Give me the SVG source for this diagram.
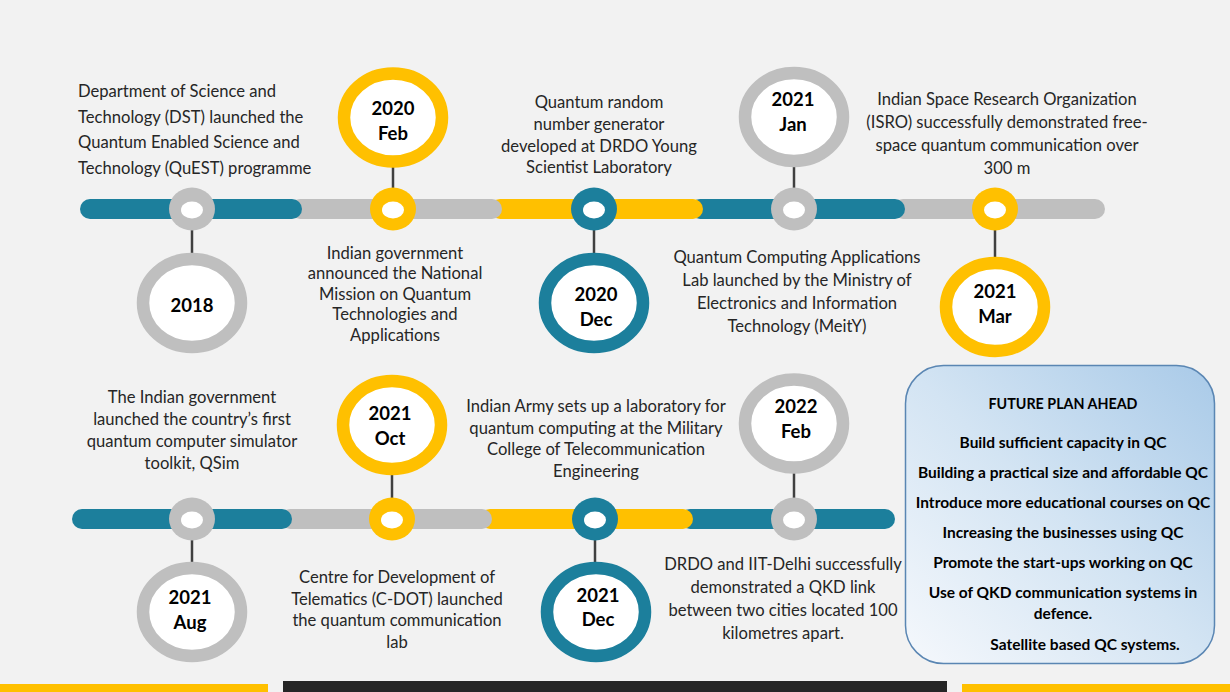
<svg xmlns="http://www.w3.org/2000/svg" width="1230" height="692" viewBox="0 0 1230 692">
<defs>
<linearGradient id="planGrad" x1="0" y1="1" x2="1" y2="0">
<stop offset="0" stop-color="#f5f8fc"/>
<stop offset="0.5" stop-color="#d3e4f3"/>
<stop offset="1" stop-color="#a9cae8"/>
</linearGradient>
</defs>
<style>
.bg{fill:#f2f2f2}
.bar{fill:none;stroke-width:20;stroke-linecap:round}
.teal{stroke:#1c7f9c}
.gray{stroke:#bfbfbf}
.yel{stroke:#ffc000}
.ft{fill:#1c7f9c}.fg{fill:#bfbfbf}.fy{fill:#ffc000}
.big{fill:#ffffff;stroke-width:12.5}
.hole{fill:#ffffff}
.conn{stroke:#404040;stroke-width:2.5;fill:none}
.desc{font-family:Lato,"Liberation Sans",sans-serif;font-size:16.6px;fill:#262626}
.c{text-anchor:middle}
.yr{font-family:Lato,"Liberation Sans",sans-serif;font-size:18.5px;font-weight:bold;fill:#000;text-anchor:middle}
.plan{font-family:Lato,"Liberation Sans",sans-serif;font-size:15.5px;font-weight:bold;fill:#000;text-anchor:middle}
.ptitle{font-size:14.3px}
</style>
<rect class="bg" x="0" y="0" width="1230" height="692"/>

<g id="timeline-top">
<line class="bar gray" x1="903" y1="209" x2="1095" y2="209"/>
<line class="bar teal" x1="700" y1="209" x2="895" y2="209"/>
<line class="bar yel" x1="500" y1="209" x2="693" y2="209"/>
<line class="bar gray" x1="300" y1="209" x2="492" y2="209"/>
<line class="bar teal" x1="90" y1="209" x2="292" y2="209"/>
</g>
<g id="timeline-bottom">
<line class="bar teal" x1="690" y1="519" x2="885" y2="519"/>
<line class="bar yel" x1="490" y1="519" x2="683" y2="519"/>
<line class="bar gray" x1="290" y1="519" x2="482" y2="519"/>
<line class="bar teal" x1="82" y1="519" x2="282" y2="519"/>
</g>

<g id="connectors">
<line class="conn" x1="192" y1="229" x2="192" y2="256"/>
<line class="conn" x1="393" y1="167" x2="393" y2="190"/>
<line class="conn" x1="594" y1="229" x2="594" y2="254"/>
<line class="conn" x1="794" y1="166" x2="794" y2="190"/>
<line class="conn" x1="995" y1="229" x2="995" y2="258"/>
<line class="conn" x1="192" y1="539" x2="192" y2="563"/>
<line class="conn" x1="392" y1="474" x2="392" y2="500"/>
<line class="conn" x1="595" y1="539" x2="595" y2="563"/>
<line class="conn" x1="794" y1="473" x2="794" y2="500"/>
</g>

<g id="event-2018">
<ellipse class="fg" cx="192" cy="209" rx="23" ry="21.5"/>
<ellipse class="hole" cx="192" cy="210" rx="11" ry="8.5"/>
<ellipse class="big gray" cx="192" cy="303" rx="49" ry="44"/>
<text class="yr" x="192" y="312">2018</text>
<text class="desc" x="78" y="97">Department of Science and</text>
<text class="desc" x="78" y="122.5">Technology (DST) launched the</text>
<text class="desc" x="78" y="148">Quantum Enabled Science and</text>
<text class="desc" x="78" y="173.5">Technology (QuEST) programme</text>
</g>

<g id="event-2020-feb">
<ellipse class="fy" cx="393" cy="209" rx="23" ry="21.5"/>
<ellipse class="hole" cx="393" cy="210" rx="11" ry="8.5"/>
<ellipse class="big yel" cx="393" cy="117.5" rx="49" ry="44"/>
<text class="yr" x="393" y="114.5">2020</text>
<text class="yr" x="393" y="140">Feb</text>
<text class="desc c" x="395" y="258.5">Indian government</text>
<text class="desc c" x="395" y="279">announced the National</text>
<text class="desc c" x="395" y="299.5">Mission on Quantum</text>
<text class="desc c" x="395" y="320">Technologies and</text>
<text class="desc c" x="395" y="340.5">Applications</text>
</g>

<g id="event-2020-dec">
<ellipse class="ft" cx="594" cy="209" rx="23" ry="21.5"/>
<ellipse class="hole" cx="594" cy="210" rx="11" ry="8.5"/>
<ellipse class="big teal" cx="594" cy="303" rx="49" ry="44"/>
<text class="yr" x="596" y="300.5">2020</text>
<text class="yr" x="596" y="325.5">Dec</text>
<text class="desc c" x="599" y="108">Quantum random</text>
<text class="desc c" x="599" y="130">number generator</text>
<text class="desc c" x="599" y="151.5">developed at DRDO Young</text>
<text class="desc c" x="599" y="173">Scientist Laboratory</text>
</g>

<g id="event-2021-jan">
<ellipse class="fg" cx="794" cy="209" rx="23" ry="21.5"/>
<ellipse class="hole" cx="794" cy="210" rx="11" ry="8.5"/>
<ellipse class="big gray" cx="794" cy="117" rx="49" ry="44"/>
<text class="yr" x="793" y="106">2021</text>
<text class="yr" x="793" y="130.5">Jan</text>
<text class="desc c" x="797" y="263">Quantum Computing Applications</text>
<text class="desc c" x="797" y="286">Lab launched by the Ministry of</text>
<text class="desc c" x="797" y="309">Electronics and Information</text>
<text class="desc c" x="797" y="332">Technology (MeitY)</text>
</g>

<g id="event-2021-mar">
<ellipse class="fy" cx="995" cy="209" rx="23" ry="21.5"/>
<ellipse class="hole" cx="995" cy="210" rx="11" ry="8.5"/>
<ellipse class="big yel" cx="995" cy="307" rx="49" ry="44"/>
<text class="yr" x="995" y="298">2021</text>
<text class="yr" x="995" y="323">Mar</text>
<text class="desc c" x="1007" y="105">Indian Space Research Organization</text>
<text class="desc c" x="1007" y="128">(ISRO) successfully demonstrated free-</text>
<text class="desc c" x="1007" y="151">space quantum communication over</text>
<text class="desc c" x="1007" y="174">300 m</text>
</g>

<g id="event-2021-aug">
<ellipse class="fg" cx="192" cy="519" rx="23" ry="21.5"/>
<ellipse class="hole" cx="192" cy="520" rx="11" ry="8.5"/>
<ellipse class="big gray" cx="192" cy="612" rx="49" ry="44"/>
<text class="yr" x="190" y="604">2021</text>
<text class="yr" x="190" y="628.5">Aug</text>
<text class="desc c" x="192" y="403">The Indian government</text>
<text class="desc c" x="192" y="425">launched the country’s first</text>
<text class="desc c" x="192" y="447">quantum computer simulator</text>
<text class="desc c" x="192" y="468.5">toolkit, QSim</text>
</g>

<g id="event-2021-oct">
<ellipse class="fy" cx="392" cy="519" rx="23" ry="21.5"/>
<ellipse class="hole" cx="392" cy="520" rx="11" ry="8.5"/>
<ellipse class="big yel" cx="392" cy="425" rx="49" ry="44"/>
<text class="yr" x="390" y="419.5">2021</text>
<text class="yr" x="390" y="444.5">Oct</text>
<text class="desc c" x="397" y="583">Centre for Development of</text>
<text class="desc c" x="397" y="604.5">Telematics (C-DOT) launched</text>
<text class="desc c" x="397" y="626">the quantum communication</text>
<text class="desc c" x="397" y="647.5">lab</text>
</g>

<g id="event-2021-dec">
<ellipse class="ft" cx="595" cy="519" rx="23" ry="21.5"/>
<ellipse class="hole" cx="595" cy="520" rx="11" ry="8.5"/>
<ellipse class="big teal" cx="596" cy="612" rx="49" ry="44"/>
<text class="yr" x="598" y="602">2021</text>
<text class="yr" x="598" y="626">Dec</text>
<text class="desc c" x="596" y="412">Indian Army sets up a laboratory for</text>
<text class="desc c" x="596" y="433.5">quantum computing at the Military</text>
<text class="desc c" x="596" y="455">College of Telecommunication</text>
<text class="desc c" x="596" y="476.5">Engineering</text>
</g>

<g id="event-2022-feb">
<ellipse class="fg" cx="794" cy="519" rx="23" ry="21.5"/>
<ellipse class="hole" cx="794" cy="520" rx="11" ry="8.5"/>
<ellipse class="big gray" cx="794" cy="423.5" rx="49" ry="44"/>
<text class="yr" x="796" y="413">2022</text>
<text class="yr" x="796" y="437.5">Feb</text>
<text class="desc c" x="783" y="569.5">DRDO and IIT-Delhi successfully</text>
<text class="desc c" x="783" y="592.5">demonstrated a QKD link</text>
<text class="desc c" x="783" y="615.5">between two cities located 100</text>
<text class="desc c" x="783" y="638.5">kilometres apart.</text>
</g>

<g id="future-plan">
<rect x="905.5" y="365.5" width="309" height="298" rx="38" ry="38" fill="url(#planGrad)" stroke="#5a86b3" stroke-width="1.5"/>
<text class="plan ptitle" x="1063" y="409">FUTURE PLAN AHEAD</text>
<text class="plan" x="1063" y="448">Build sufficient capacity in QC</text>
<text class="plan" x="1063" y="478">Building a practical size and affordable QC</text>
<text class="plan" x="1063" y="508">Introduce more educational courses on QC</text>
<text class="plan" x="1063" y="538">Increasing the businesses using QC</text>
<text class="plan" x="1063" y="568">Promote the start-ups working on QC</text>
<text class="plan" x="1063" y="598">Use of QKD communication systems in</text>
<text class="plan" x="1063" y="619">defence.</text>
<text class="plan" x="1085" y="650">Satellite based QC systems.</text>
</g>

<g id="footer">
<rect x="0" y="684" width="268" height="8" fill="#ffc000"/>
<rect x="283" y="681" width="664" height="11" fill="#262626"/>
<rect x="962" y="684" width="268" height="8" fill="#ffc000"/>
</g>
</svg>
